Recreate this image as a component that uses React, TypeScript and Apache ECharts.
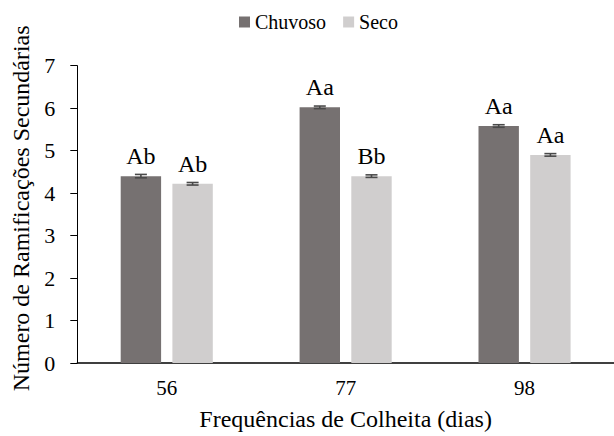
import React, { useEffect, useRef } from "react";
import * as echarts from "echarts";

const categories = ["56", "77", "98"];
const seriesNames = ["Chuvoso", "Seco"];
const chuvoso = [4.4, 6.02, 5.58];
const seco = [4.22, 4.4, 4.9];
const chuvosoErr = [0.04, 0.03, 0.03];
const secoErr = [0.03, 0.03, 0.03];
const chuvosoLetters = ["Ab", "Aa", "Aa"];
const secoLetters = ["Ab", "Bb", "Aa"];
const yTicks = [0, 1, 2, 3, 4, 5, 6, 7];

const FONT = "Liberation Serif";
const BAR_W = 40.4;
const GAP_PX = 11.3;

export default function App() {
  const ref = useRef<HTMLDivElement>(null);
  useEffect(() => {
    const chart = echarts.init(ref.current!, null, { renderer: "svg" });
    const errSeries = (vals: number[], errs: number[], sign: number, name: string) => ({
      type: "custom",
      name: name + "_err",
      z: 5,
      silent: true,
      data: vals.map((v, i) => [i, v, errs[i]]),
      renderItem: (params: any, api: any) => {
        const i = api.value(0);
        const v = api.value(1);
        const e = api.value(2);
        const off = sign * (BAR_W + GAP_PX) / 2;
        const hi = api.coord([i, v + e]);
        const lo = api.coord([i, v - e]);
        const x = hi[0] + off;
        const cap = 6;
        const style = { stroke: "#4a4a4a", lineWidth: 1.6 };
        return {
          type: "group",
          children: [
            { type: "line", shape: { x1: x, y1: hi[1], x2: x, y2: lo[1] }, style },
            { type: "line", shape: { x1: x - cap, y1: hi[1], x2: x + cap, y2: hi[1] }, style },
            { type: "line", shape: { x1: x - cap, y1: lo[1], x2: x + cap, y2: lo[1] }, style },
          ],
        };
      },
    });
    chart.setOption({
      animation: false,
      textStyle: { fontFamily: FONT },
      legend: {
        data: seriesNames,
        top: 7,
        left: 234,
        itemWidth: 11,
        itemHeight: 11,
        itemGap: 17,
        icon: "rect",
        textStyle: { fontFamily: FONT, fontSize: 20, color: "#000" },
      },
      grid: { left: 77.3, right: -6.5, top: 65.7, bottom: 72.5, containLabel: false },
      xAxis: {
        type: "category",
        data: categories,
        name: "Frequências de Colheita (dias)",
        nameLocation: "middle",
        nameGap: 44,
        nameTextStyle: { fontFamily: FONT, fontSize: 24, color: "#000" },
        axisLine: { lineStyle: { color: "#000", width: 1.5 } },
        axisTick: { inside: true, length: 7, lineStyle: { color: "#000" } },
        axisLabel: { margin: 14, fontFamily: FONT, fontSize: 21, color: "#000" },
      },
      yAxis: {
        type: "value",
        min: yTicks[0],
        max: yTicks[yTicks.length - 1],
        interval: 1,
        name: "Número de Ramificações Secundárias",
        nameLocation: "middle",
        nameGap: 44,
        nameTextStyle: { fontFamily: FONT, fontSize: 24, color: "#000", padding: [0, 0, 0, 12] },
        axisLine: { show: true, lineStyle: { color: "#000", width: 1 } },
        axisTick: { show: true, length: 7, lineStyle: { color: "#000" } },
        splitLine: { show: false },
        axisLabel: { margin: 22, fontFamily: FONT, fontSize: 22, color: "#000" },
      },
      series: [
        {
          type: "bar",
          name: seriesNames[0],
          data: chuvoso,
          barWidth: BAR_W,
          barGap: (GAP_PX / BAR_W) * 100 + "%",
          itemStyle: { color: "#767171" },
          label: {
            show: true,
            position: "top",
            distance: 8,
            formatter: (p: any) => chuvosoLetters[p.dataIndex],
            fontFamily: FONT,
            fontSize: 24,
            color: "#000",
          },
        },
        {
          type: "bar",
          name: seriesNames[1],
          data: seco,
          barWidth: BAR_W,
          barGap: (GAP_PX / BAR_W) * 100 + "%",
          itemStyle: { color: "#D0CECE" },
          label: {
            show: true,
            position: "top",
            distance: 8,
            formatter: (p: any) => secoLetters[p.dataIndex],
            fontFamily: FONT,
            fontSize: 24,
            color: "#000",
          },
        },
        errSeries(chuvoso, chuvosoErr, -1, seriesNames[0]),
        errSeries(seco, secoErr, 1, seriesNames[1]),
      ],
    });
    return () => chart.dispose();
  }, []);
  return (
    <div
      ref={ref}
      style={{ position: "fixed", left: 0, top: 0, width: 614, height: 436, background: "#fff" }}
    />
  );
}
